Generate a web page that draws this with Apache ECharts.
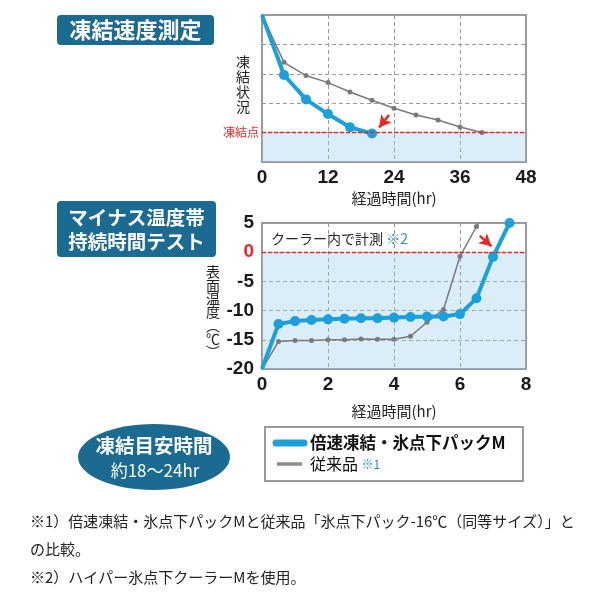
<!DOCTYPE html>
<html><head><meta charset="utf-8">
<script src="https://cdn.jsdelivr.net/npm/echarts@6/dist/echarts.min.js"></script>
<style>html,body{margin:0;padding:0;background:#fff}#c{width:600px;height:600px}</style>
</head><body><div id="c"></div>
<script>
// ---- Data ----
const topXTicks = [0, 12, 24, 36, 48];
const topFastHours = [0, 4, 8, 12, 16, 20];
const topFastLevel = [5, 2.96, 2.13, 1.63, 1.18, 0.97];
const topOldHours = [0, 4, 8, 12, 16, 20, 24, 28, 32, 36, 40];
const topOldLevel = [5, 3.39, 2.94, 2.70, 2.38, 2.10, 1.83, 1.60, 1.43, 1.19, 1.0];
const freezeLevel = 1;

const botFastHours = [0, 0.5, 1, 1.5, 2, 2.5, 3, 3.5, 4, 4.5, 5, 5.5, 6, 6.5, 7, 7.5];
const botFastTemp = [-20, -12.3, -11.8, -11.6, -11.5, -11.4, -11.3, -11.3, -11.2, -11.1, -11.0, -11.0, -10.6, -7.9, -0.8, 5.0];
const botOldHours = [0, 0.5, 1, 1.5, 2, 2.5, 3, 3.5, 4, 4.5, 5, 5.5, 6, 6.5, 7];
const botOldTemp = [-20, -15.3, -15.1, -15.1, -15.0, -15.0, -14.85, -14.9, -14.9, -14.4, -12.0, -9.8, -0.7, 4.4, 9];
const botYTicks = [5, 0, -5, -10, -15, -20];

const seriesNames = ['倍速凍結・氷点下パックM', '従来品'];

const BLUE = '#1ba0dc', GRAY = '#7a7a7a', RED = '#e62828', NAVY = '#1b6a92';
const JP = '"Noto Sans CJK JP", sans-serif';
const NUM = '"Liberation Sans", Arial, sans-serif';

function pts(xs, ys, noSymIdx) {
  return xs.map((x, i) => {
    const d = { value: [x, ys[i]] };
    if (noSymIdx.includes(i)) d.symbol = 'none';
    return d;
  });
}

const chart = echarts.init(document.getElementById('c'), null, { renderer: 'canvas' });

const axisNameStyle = { fontFamily: JP, fontSize: 15, color: '#222' };
const tickLabel = { fontFamily: NUM, fontWeight: 'bold', fontSize: 19, color: '#1a1a1a' };
const split = { show: true, lineStyle: { color: '#9a9a9a', type: [4, 3], width: 1 } };
const fill = 'rgba(150,200,240,0.33)';

chart.setOption({
  animation: false,
  grid: [
    { left: 262, top: 15, width: 264, height: 147, show: true, borderColor: '#9a9a9a', borderWidth: 2, backgroundColor: 'transparent' },
    { left: 262, top: 223, width: 264, height: 146, show: true, borderColor: '#9a9a9a', borderWidth: 2, backgroundColor: 'transparent' }
  ],
  xAxis: [
    { gridIndex: 0, type: 'value', min: topXTicks[0], max: topXTicks[topXTicks.length - 1], interval: 12,
      axisLine: { show: false }, axisTick: { show: false }, splitLine: split,
      axisLabel: Object.assign({ margin: 6 }, tickLabel),
      name: '経過時間(hr)', nameLocation: 'middle', nameGap: 29, nameTextStyle: axisNameStyle },
    { gridIndex: 1, type: 'value', min: 0, max: 8, interval: 2,
      axisLine: { show: false }, axisTick: { show: false }, splitLine: split,
      axisLabel: Object.assign({ margin: 6 }, tickLabel),
      name: '経過時間(hr)', nameLocation: 'middle', nameGap: 35, nameTextStyle: axisNameStyle }
  ],
  yAxis: [
    { gridIndex: 0, type: 'value', min: 0, max: 5, interval: 1,
      axisLine: { show: false }, axisTick: { show: false }, axisLabel: { show: false }, splitLine: split },
    { gridIndex: 1, type: 'value', min: -20, max: 5, interval: 5,
      axisLine: { show: false }, axisTick: { show: false }, splitLine: split,
      axisLabel: { margin: 8, formatter: v => v === 0 ? '{r|0}' : '{b|' + v + '}',
        rich: { r: Object.assign({}, tickLabel, { color: RED }), b: tickLabel } } }
  ],
  series: [
    { name: seriesNames[1], type: 'line', xAxisIndex: 0, yAxisIndex: 0, z: 3,
      data: pts(topOldHours, topOldLevel, [0]), symbol: 'circle', symbolSize: 5,
      lineStyle: { color: GRAY, width: 1.5 }, itemStyle: { color: GRAY },
      markArea: { silent: true, itemStyle: { color: fill }, data: [[{ yAxis: 0 }, { yAxis: freezeLevel }]] },
      markLine: { silent: true, symbol: 'none', lineStyle: { color: RED, type: [4, 2], width: 1.3 },
        label: { show: true, position: 'start', formatter: '凍結点', fontFamily: JP, fontSize: 12, color: RED, distance: 3 },
        data: [{ yAxis: freezeLevel }] } },
    { name: seriesNames[0], type: 'line', xAxisIndex: 0, yAxisIndex: 0, z: 4,
      data: pts(topFastHours, topFastLevel, [0]), symbol: 'circle', symbolSize: 10,
      lineStyle: { color: BLUE, width: 4 }, itemStyle: { color: BLUE },
      markLine: { silent: true, symbol: ['none', 'arrow'], symbolSize: [10, 12], lineStyle: { color: RED, width: 2.5, type: 'solid' },
        label: { show: false }, data: [[{ coord: [23.1, 1.6] }, { coord: [21.3, 1.17] }]] } },
    { name: seriesNames[1], type: 'line', xAxisIndex: 1, yAxisIndex: 1, z: 3,
      data: pts(botOldHours, botOldTemp, [0, botOldHours.length - 1]), symbol: 'circle', symbolSize: 5,
      lineStyle: { color: GRAY, width: 1.5 }, itemStyle: { color: GRAY },
      markArea: { silent: true, itemStyle: { color: fill }, data: [[{ yAxis: -20 }, { yAxis: 0 }]] },
      markLine: { silent: true, symbol: 'none', lineStyle: { color: RED, type: [4, 2], width: 1.3 },
        label: { show: false }, data: [{ yAxis: 0 }] } },
    { name: seriesNames[0], type: 'line', xAxisIndex: 1, yAxisIndex: 1, z: 4,
      data: pts(botFastHours, botFastTemp, [0]), symbol: 'circle', symbolSize: 10,
      lineStyle: { color: BLUE, width: 4 }, itemStyle: { color: BLUE },
      markLine: { silent: true, symbol: ['none', 'arrow'], symbolSize: [10, 12], lineStyle: { color: RED, width: 2.5, type: 'solid' },
        label: { show: false }, data: [[{ coord: [6.6, 2.8] }, { coord: [6.95, 1.0] }]] } }
  ],
  graphic: [
    // title 1
    { type: 'rect', shape: { x: 57, y: 15, width: 157, height: 30, r: 4 }, style: { fill: NAVY } },
    { type: 'text', x: 135.5, y: 30, style: { text: '凍結速度測定', fill: '#fff', font: 'bold 22px ' + JP, align: 'center', verticalAlign: 'middle' } },
    // top y name
    { type: 'text', x: 243, y: 84, style: { text: '凍\n結\n状\n況', fill: '#222', font: '14px ' + JP, align: 'center', verticalAlign: 'middle', lineHeight: 15 } },
    // title 2
    { type: 'rect', shape: { x: 57, y: 201, width: 159, height: 56, r: 4 }, style: { fill: NAVY } },
    { type: 'text', x: 136.5, y: 230, style: { text: 'マイナス温度帯\n持続時間テスト', fill: '#fff', font: 'bold 19.5px ' + JP, align: 'center', verticalAlign: 'middle', lineHeight: 24 } },
    // bottom y name
    { type: 'text', x: 213, y: 312, style: { text: '表\n面\n温\n度\n︵\n℃\n︶', fill: '#222', font: '14px ' + JP, align: 'center', verticalAlign: 'middle', lineHeight: 13.3 } },
    // in-plot note
    { type: 'text', x: 271, y: 239, style: { text: '{k|クーラー内で計測 }{b|※2}', verticalAlign: 'middle',
        rich: { k: { fontFamily: JP, fontSize: 14, fill: '#222' }, b: { fontFamily: JP, fontSize: 14, fill: '#2a8cc8' } } } },
    // ellipse badge
    { type: 'ellipse', shape: { cx: 154, cy: 457, rx: 76, ry: 33 }, style: { fill: NAVY } },
    { type: 'text', x: 154, y: 446, style: { text: '凍結目安時間', fill: '#fff', font: 'bold 19.5px ' + JP, align: 'center', verticalAlign: 'middle' } },
    { type: 'text', x: 155, y: 471, style: { text: '約18〜24hr', fill: '#fff', font: '17px ' + JP, align: 'center', verticalAlign: 'middle' } },
    // legend
    { type: 'rect', shape: { x: 265, y: 427, width: 258, height: 54 }, style: { fill: '#fff', stroke: '#9a9a9a', lineWidth: 2 } },
    { type: 'line', shape: { x1: 276, y1: 443, x2: 304, y2: 443 }, style: { stroke: BLUE, lineWidth: 7, lineCap: 'round' } },
    { type: 'text', x: 310, y: 443, style: { text: seriesNames[0], fill: '#111', font: 'bold 16.5px ' + JP, verticalAlign: 'middle' } },
    { type: 'line', shape: { x1: 277, y1: 464, x2: 302, y2: 464 }, style: { stroke: '#8a8a8a', lineWidth: 3.5 } },
    { type: 'text', x: 310, y: 464, style: { text: '{k|' + seriesNames[1] + ' }{b|※1}', verticalAlign: 'middle',
        rich: { k: { fontFamily: JP, fontSize: 16, fill: '#111' }, b: { fontFamily: JP, fontSize: 12, fill: '#2a8cc8' } } } },
    // footnotes
    { type: 'text', x: 30, y: 521, style: { text: '※1）倍速凍結・氷点下パックMと従来品「氷点下パック-16℃（同等サイズ）」と', fill: '#222', font: '15px ' + JP, verticalAlign: 'middle' } },
    { type: 'text', x: 30, y: 549, style: { text: 'の比較。', fill: '#222', font: '15px ' + JP, verticalAlign: 'middle' } },
    { type: 'text', x: 30, y: 577, style: { text: '※2）ハイパー氷点下クーラーMを使用。', fill: '#222', font: '15px ' + JP, verticalAlign: 'middle' } }
  ]
});
</script></body></html>
